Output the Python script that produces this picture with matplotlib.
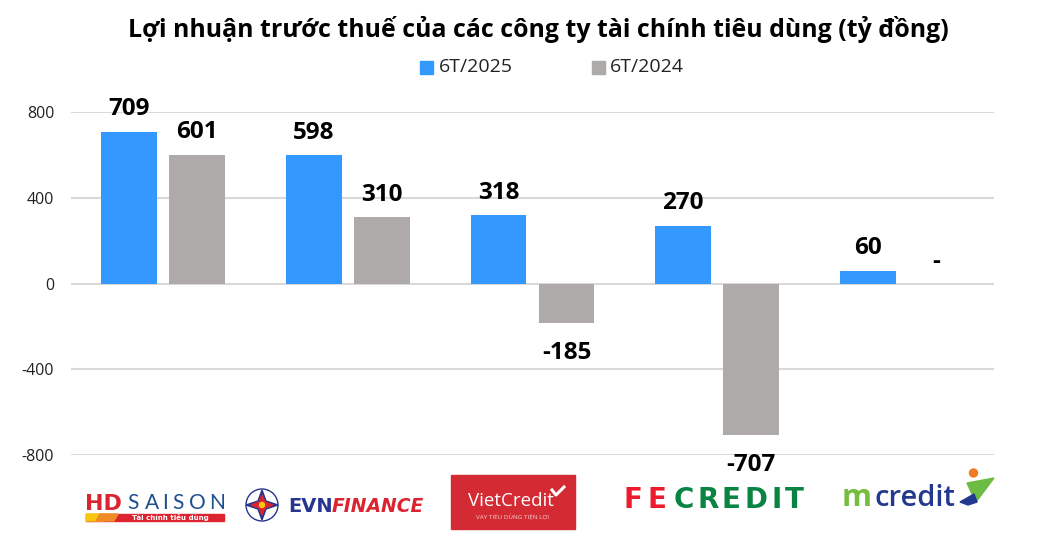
import matplotlib
matplotlib.use('Agg')
import matplotlib.pyplot as plt
import numpy as np
from matplotlib.patches import Rectangle, Circle, Polygon

plt.rcParams['font.family'] = ['Open Sans', 'Noto Sans', 'DejaVu Sans']

companies = ['HD SAISON', 'EVN FINANCE', 'VietCredit', 'FE CREDIT', 'mcredit']
val_2025 = [709, 598, 318, 270, 60]
val_2024 = [601, 310, -185, -707, 0]
labels_2025 = ['709', '598', '318', '270', '60']
labels_2024 = ['601', '310', '-185', '-707', '-']
y_ticks = [800, 400, 0, -400, -800]

W, H = 1047, 537
fig = plt.figure(figsize=(W/100, H/100), dpi=100)
# axes box follows the gridlines: x 71..994, y=800 at 112, y=-800 at 455
ax = fig.add_axes([71/W, 1-455/H, (994-71)/W, (455-112)/H])
x = np.arange(5)
w = 0.303
off = 0.184
ax.bar(x-off, val_2025, w, color='#3399ff', label='6T/2025', zorder=3)
ax.bar(x+off, val_2024, w, color='#aeaaaa', label='6T/2024', zorder=3)
ax.set_xlim(-0.498, 4.498)
ax.set_ylim(-800, 800)
ax.set_yticks(y_ticks)
ax.set_yticklabels([str(t) for t in y_ticks], fontsize=11.5, color='#222222')
ax.set_xticks([])
ax.tick_params(axis='y', length=0, pad=12)
ax.grid(axis='y', color='#d9d9d9', lw=1.5, zorder=0)
for s in ax.spines.values():
    s.set_visible(False)

for i in range(5):
    ax.text(x[i]-off, val_2025[i]+49, labels_2025[i], ha='center', va='bottom',
            fontsize=17.5, fontweight='bold', color='black')
    v = val_2024[i]
    if v < 0:
        ax.text(x[i]+off, v-84, labels_2024[i], ha='center', va='top', fontsize=17.5,
                fontweight='bold', color='black', clip_on=False)
    else:
        ax.text(x[i]+off, v+49 if v else 42, labels_2024[i], ha='center', va='bottom',
                fontsize=17.5, fontweight='bold', color='black')

fig.text(538/W, 1-29/H, 'Lợi nhuận trước thuế của các công ty tài chính tiêu dùng (tỷ đồng)',
         ha='center', va='center', fontsize=17.9, fontweight='bold', color='black')

# legend drawn by hand so the spacing follows the reference
px = fig.add_axes([0, 0, 1, 1], facecolor='none')
px.set_xlim(0, W)
px.set_ylim(H, 0)
px.axis('off')
px.add_patch(Rectangle((420, 61), 13, 13, color='#3399ff'))
px.text(439, 67, '6T/2025', fontsize=14, va='center', color='#222222')
px.add_patch(Rectangle((592, 61), 13, 13, color='#aeaaaa'))
px.text(610, 67, '6T/2024', fontsize=14, va='center', color='#222222')

# logos, approximated with text and simple shapes
navy = '#27358f'
red = '#dc2430'
px.text(85, 504, 'HD', fontsize=16, fontweight='bold', color=red, va='center', family='DejaVu Sans')
for lx, ch in zip([127, 145, 162, 172, 189, 209], 'SAISON'):
    px.text(lx, 503, ch, fontsize=15, color='#1d4f8f', va='center', ha='left', family='Lato')
px.add_patch(Rectangle((86, 514), 138, 7, color=red))
px.add_patch(Polygon([(86, 514), (108, 514), (104, 521), (86, 521)], color='#f9c80e'))
px.add_patch(Polygon([(100, 514), (118, 514), (114, 521), (96, 521)], color='#f08a24'))
px.text(170, 517.5, 'Tài chính tiêu dùng', fontsize=5, fontweight='bold', color='white',
        ha='center', va='center', family='DejaVu Sans')

px.add_patch(Circle((262, 505), 16, fc='white', ec=navy, lw=1))
px.add_patch(Polygon([(262, 490), (266, 501), (278, 505), (266, 509), (262, 520), (258, 509), (246, 505), (258, 501)], color=navy))
px.add_patch(Polygon([(262, 495), (265, 502), (273, 505), (265, 508), (262, 515), (259, 508), (251, 505), (259, 502)], color=red))
px.add_patch(Circle((262, 505), 2.5, color='#f9c80e'))
px.text(288, 506, 'EVN', fontsize=14, fontweight='bold', color=navy, va='center', family='DejaVu Sans')
px.text(332, 506, 'FINANCE', fontsize=13.5, fontweight='bold', fontstyle='italic', color=red, va='center', family='DejaVu Sans')

px.add_patch(Rectangle((451, 475), 124, 54, color='#d42a33'))
px.text(511, 501, 'VietCredit', fontsize=13.5, color='white', ha='center', va='center')
px.text(512, 517, 'VAY TIÊU DÙNG TIỆN LỢI', fontsize=4.5, color='#f5d0d0', ha='center', va='center')
px.plot([552, 556, 564], [490, 495, 487], color='white', lw=2.2)

for lx, ch in zip([624, 647], 'FE'):
    px.text(lx, 500, ch, fontsize=20, fontweight='bold', color='#ec1c2e', va='center', family='DejaVu Sans')
for lx, ch in zip([674, 697.5, 722, 744.5, 771, 784.5], 'CREDIT'):
    px.text(lx, 500, ch, fontsize=20, fontweight='bold', color='#0a8443', va='center', family='DejaVu Sans')

px.text(842, 498, 'm', fontsize=22, color='#76bc3f', va='center', fontweight='bold')
px.text(875, 498, 'credit', fontsize=21, color='#23398f', va='center', fontweight='semibold')
px.add_patch(Polygon([(967, 483), (994, 478), (976, 502), (972, 494)], color='#6cbb45'))
px.add_patch(Polygon([(960, 502), (974, 494), (977, 502), (968, 505)], color='#23398f'))
px.add_patch(Circle((973.5, 473), 4, color='#f07a22'))

fig.savefig('out.png', dpi=100)
